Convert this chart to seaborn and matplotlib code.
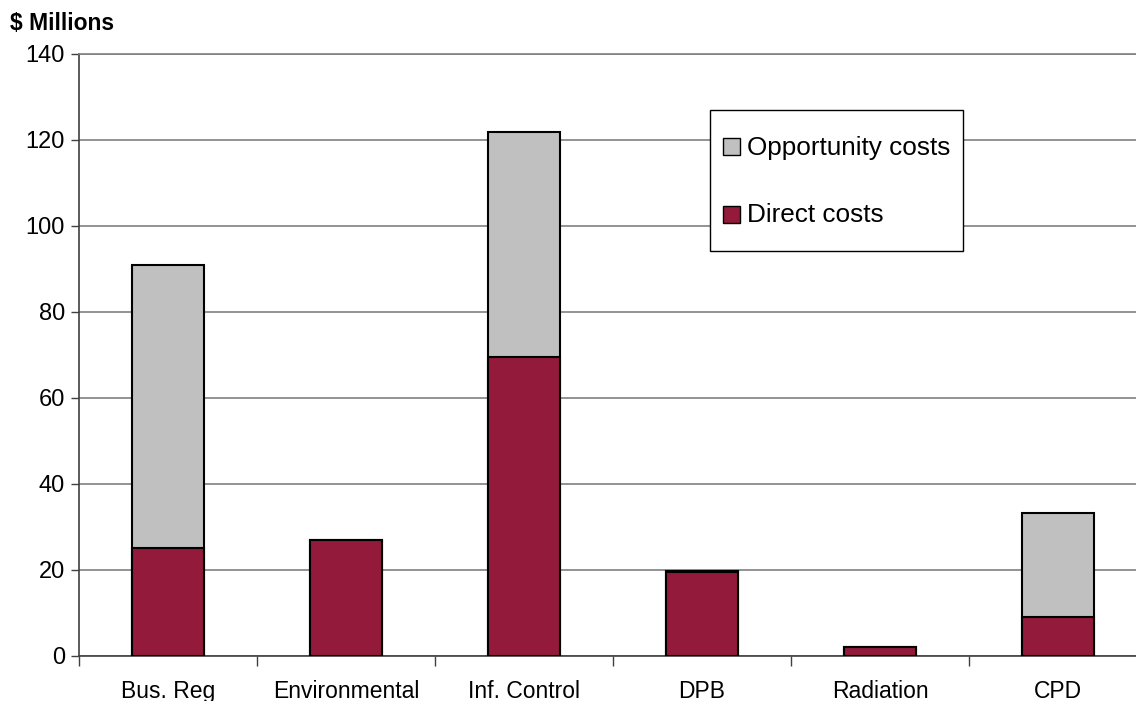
import matplotlib
matplotlib.use("Agg")
import matplotlib.pyplot as plt
import seaborn as sns
import pandas as pd
from matplotlib.patches import Patch, Rectangle
from matplotlib.legend_handler import HandlerPatch

categories = ["Bus. Reg", "Environmental", "Inf. Control", "DPB", "Radiation", "CPD"]
direct_costs = [25.1, 27.0, 69.5, 19.5, 2.1, 9.1]
opportunity_costs = [65.8, 0.0, 52.4, 0.3, 0.0, 24.2]
y_ticks = [0, 20, 40, 60, 80, 100, 120, 140]

direct_color = "#931A3A"
opp_color = "#C0C0C0"

df = pd.DataFrame({
    "category": categories,
    "direct": direct_costs,
    "total": [d + o for d, o in zip(direct_costs, opportunity_costs)],
})

sns.set_theme(style="white")
plt.rcParams["font.family"] = ["Liberation Sans", "DejaVu Sans"]
plt.rcParams["text.color"] = "black"
plt.rcParams["xtick.color"] = "black"
plt.rcParams["ytick.color"] = "black"

fig = plt.figure(figsize=(11.36, 7.01), dpi=100)
ax = fig.add_axes([79 / 1136, 45 / 701, 1068 / 1136, 602 / 701])

# stacked bars: total (opportunity on top) drawn first, direct costs over it
sns.barplot(data=df, x="category", y="total", color=opp_color, width=0.4,
            edgecolor="black", linewidth=1.5, saturation=1, ax=ax, zorder=3)
sns.barplot(data=df, x="category", y="direct", color=direct_color, width=0.4,
            edgecolor="black", linewidth=1.5, saturation=1, ax=ax, zorder=4)

ax.set_xlim(-0.5, len(categories) - 0.5)
ax.set_ylim(0, 140)
ax.set_yticks(y_ticks)
ax.set_yticklabels([str(v) for v in y_ticks], fontsize=17)
ax.set_xticks(range(len(categories)))
ax.set_xticklabels(categories, fontsize=16.5)
ax.set_xlabel("")
ax.set_ylabel("")

# category separators as minor ticks
ax.set_xticks([i - 0.5 for i in range(len(categories) + 1)], minor=True)
ax.tick_params(axis="x", which="major", length=0, pad=17)
ax.tick_params(axis="x", which="minor", length=7, width=1, color="#404040",
               direction="out", bottom=True)
ax.tick_params(axis="y", length=6, width=1, color="#404040", direction="out",
               left=True, pad=4)

ax.yaxis.grid(True, color="#808080", linewidth=1.2, zorder=0)
ax.set_axisbelow(True)
for side in ["left", "bottom", "top"]:
    ax.spines[side].set_visible(True)
    ax.spines[side].set_color("#404040")
    ax.spines[side].set_linewidth(1.2)
ax.spines["top"].set_color("#808080")
ax.spines["right"].set_visible(False)

fig.text(10 / 1136, 1 - 24 / 701, "$ Millions", fontsize=16.5, fontweight="bold",
         va="center", ha="left", color="black")


def square_patch(legend, orig_handle, xdescent, ydescent, width, height, fontsize):
    # small square swatch centred vertically in a tall legend row
    return Rectangle((-xdescent, -ydescent + (height - width) / 2), width, width)


handles = [
    Patch(facecolor=opp_color, edgecolor="black", linewidth=1),
    Patch(facecolor=direct_color, edgecolor="black", linewidth=1),
]
leg = fig.legend(handles, ["Opportunity costs", "Direct costs"],
                 loc="upper left", bbox_to_anchor=(710 / 1136, 1 - 110 / 701),
                 fontsize=18.8, frameon=True, fancybox=False, framealpha=1,
                 edgecolor="black", handlelength=0.65, handleheight=2.4,
                 handletextpad=0.25, labelspacing=0.78, borderpad=0.5,
                 borderaxespad=0,
                 handler_map={Patch: HandlerPatch(patch_func=square_patch)})
leg.get_frame().set_linewidth(1)

fig.savefig("out.png", dpi=100)
